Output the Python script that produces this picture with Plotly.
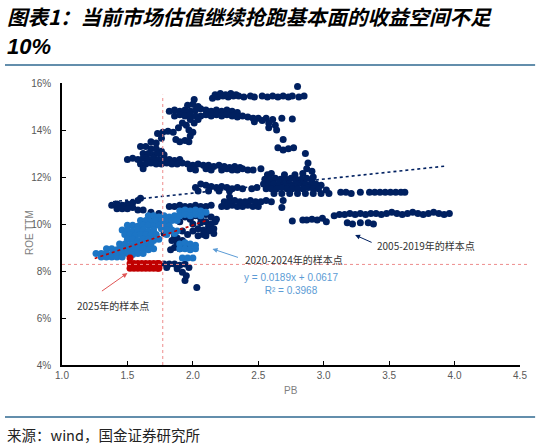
import plotly.graph_objects as go

# colours
NAVY = "#002060"
LIGHT_BLUE = "#1C75C5"
RED = "#C00000"
REF_RED = "#EE8C8C"
CJK = "Noto Sans CJK SC"
LATIN = "Liberation Sans, Arial"

# ---- 2005-2019 samples (PB, ROE %), band by band ----
band_top = [(2.01, 15.3), (2.15, 15.35), (2.19, 15.4), (2.23, 15.45), (2.27, 15.4), (2.31, 15.45),
            (2.35, 15.45), (2.39, 15.4), (2.44, 15.45), (2.47, 15.4), (2.53, 15.45), (2.57, 15.4),
            (2.61, 15.45), (2.65, 15.4), (2.69, 15.45), (2.73, 15.4), (2.76, 15.45), (2.81, 15.4),
            (2.85, 15.45), (2.80, 15.85), (2.17, 15.5), (2.21, 15.55), (2.25, 15.5), (2.29, 15.55),
            (2.33, 15.5)]

band_high = [(1.82, 14.8), (1.86, 14.85), (1.90, 14.8), (1.94, 14.85), (1.98, 14.8), (2.02, 14.85),
             (2.06, 14.9), (2.10, 14.85), (2.14, 14.8), (2.18, 14.85), (2.22, 14.8), (2.26, 14.85),
             (2.30, 14.8), (2.34, 14.75), (1.86, 14.6), (1.90, 14.65), (1.94, 14.6), (1.98, 14.65),
             (2.02, 14.6), (2.06, 14.6), (2.10, 14.65), (2.14, 14.6), (2.18, 14.65), (2.22, 14.6),
             (2.26, 14.65), (2.30, 14.6), (2.34, 14.55), (2.38, 14.6), (2.42, 14.55), (2.46, 14.5),
             (1.96, 15.05), (2.00, 15.1), (2.04, 15.0), (1.98, 14.45), (2.01, 14.3), (2.04, 14.45)]

band_tail = [(2.50, 14.5), (2.47, 14.35), (2.53, 14.4), (2.56, 14.5), (2.58, 14.3), (2.61, 14.45),
             (2.63, 14.2), (2.58, 14.1), (2.68, 14.5), (2.76, 14.47), (2.64, 14.0), (2.69, 13.6),
             (2.65, 13.25), (2.69, 13.15), (2.73, 13.2), (2.77, 13.25), (2.86, 13.0), (2.88, 12.6),
             (2.87, 12.35), (2.91, 12.25), (2.92, 12.0)]

band_hook = [(1.73, 13.85), (1.77, 13.9), (1.81, 13.95), (1.85, 13.9), (1.89, 14.1), (1.92, 14.3),
             (1.95, 14.2), (1.97, 14.0), (2.00, 13.9), (1.98, 13.75), (1.87, 13.6), (1.90, 13.5),
             (1.94, 13.55), (1.97, 13.5), (1.76, 13.65), (1.68, 13.5), (1.72, 13.45), (1.60, 13.3),
             (1.64, 13.3), (1.68, 13.2), (1.72, 13.2), (1.76, 13.1), (1.62, 13.0), (1.66, 13.0),
             (1.70, 12.95), (1.74, 13.0), (1.78, 12.95), (1.64, 12.8), (1.70, 12.8)]

band_mid = [(1.50, 12.75), (1.54, 12.8), (1.58, 12.75), (1.62, 12.8), (1.66, 12.75), (1.70, 12.8),
            (1.74, 12.75), (1.78, 12.8), (1.82, 12.75), (1.86, 12.7), (1.90, 12.75), (1.60, 12.55),
            (1.64, 12.55), (1.68, 12.6), (1.72, 12.55), (1.76, 12.55), (1.80, 12.6), (1.84, 12.55),
            (1.88, 12.55), (1.92, 12.6), (1.96, 12.55), (2.00, 12.5), (2.04, 12.55), (2.08, 12.5),
            (2.12, 12.5), (2.16, 12.45), (2.20, 12.5), (2.24, 12.45), (2.28, 12.4), (2.32, 12.45),
            (2.36, 12.4), (1.62, 12.35), (1.98, 12.35), (2.02, 12.3), (2.10, 12.35), (2.14, 12.3),
            (2.22, 12.3), (2.26, 12.35), (2.30, 12.3), (2.34, 12.3), (2.38, 12.35), (2.42, 12.3),
            (2.46, 12.3), (2.52, 12.35)]

band_eleven = [(2.02, 11.55), (2.06, 11.7), (2.10, 11.65), (2.14, 11.6), (2.18, 11.55), (2.22, 11.6),
               (2.26, 11.55), (2.30, 11.5), (2.34, 11.55), (2.38, 11.5), (2.45, 11.5), (2.49, 11.55),
               (2.04, 11.4), (2.12, 11.4), (2.20, 11.4), (2.28, 11.4),
               (2.57, 12.1), (2.60, 12.15), (2.70, 12.1), (2.78, 12.1), (2.84, 12.15),
               (2.55, 11.9), (2.59, 11.9), (2.63, 11.95), (2.67, 11.9), (2.71, 11.9), (2.75, 11.95),
               (2.79, 11.9), (2.83, 11.9), (2.87, 11.95), (2.91, 11.9),
               (2.54, 11.7), (2.58, 11.7), (2.62, 11.7), (2.66, 11.75), (2.70, 11.7), (2.74, 11.7),
               (2.78, 11.7), (2.82, 11.75), (2.86, 11.7), (2.90, 11.7), (2.94, 11.7), (2.98, 11.65),
               (2.56, 11.5), (2.60, 11.5), (2.64, 11.5), (2.68, 11.55), (2.72, 11.5), (2.76, 11.5),
               (2.80, 11.5), (2.84, 11.5), (2.88, 11.55), (2.92, 11.5), (2.96, 11.5), (3.02, 11.45),
               (2.62, 11.3), (2.68, 11.3), (2.74, 11.3), (2.80, 11.3), (2.86, 11.3), (2.92, 11.3),
               (2.98, 11.3), (3.04, 11.3),
               (3.13, 11.35), (3.17, 11.35), (3.21, 11.3), (3.28, 11.35), (3.35, 11.35), (3.39, 11.35),
               (3.43, 11.35), (3.47, 11.35), (3.51, 11.35), (3.55, 11.35), (3.59, 11.35), (3.62, 11.35)]

band_ten_left = [(1.38, 10.8), (1.42, 10.85), (1.46, 10.8), (1.50, 10.85), (1.54, 10.9), (1.58, 11.0),
                 (1.60, 11.1), (1.42, 10.65), (1.46, 10.65), (1.50, 10.65), (1.54, 10.7), (1.58, 10.6),
                 (1.62, 10.6)]

band_ten_mid = [(1.82, 10.75), (1.86, 10.75), (1.90, 10.8), (1.94, 10.75), (1.98, 10.75), (2.02, 10.8),
                (2.06, 10.75), (2.10, 10.75), (2.14, 10.8), (2.22, 10.75), (2.26, 10.75), (2.30, 10.8),
                (2.34, 10.75), (2.38, 10.75), (2.42, 10.8), (2.46, 10.75), (2.50, 10.75),
                (2.24, 10.95), (2.28, 10.95), (2.32, 11.0), (2.36, 10.95), (2.40, 10.95), (2.44, 11.0),
                (2.48, 10.95), (2.52, 10.95), (2.56, 11.0), (2.60, 10.95), (2.28, 11.15), (2.68, 10.7),
                (2.69, 11.0)]

band_ten_right = [(2.76, 10.13), (2.84, 10.17), (2.87, 10.17), (2.91, 10.2), (2.95, 10.17), (2.99, 10.25),
                  (3.02, 10.1), (3.08, 10.35), (3.12, 10.4), (3.16, 10.4), (3.20, 10.45), (3.24, 10.4),
                  (3.28, 10.45), (3.32, 10.4), (3.36, 10.45), (3.40, 10.45), (3.44, 10.4), (3.48, 10.45),
                  (3.52, 10.5), (3.56, 10.45), (3.60, 10.4), (3.64, 10.45), (3.68, 10.5), (3.72, 10.45),
                  (3.76, 10.4), (3.80, 10.45), (3.84, 10.5), (3.88, 10.45), (3.92, 10.4), (3.96, 10.45),
                  (3.18, 10.05), (3.22, 10.0), (3.28, 10.05), (3.34, 10.05), (3.38, 10.0)]

band_low = [(1.68, 10.5), (1.70, 10.3), (1.72, 10.15), (1.74, 10.45), (1.86, 10.2), (1.90, 10.1),
            (1.94, 10.3), (1.98, 10.2), (2.02, 10.35), (2.06, 10.25), (2.10, 10.4), (2.14, 10.3),
            (2.17, 10.1), (2.00, 10.0), (2.06, 10.05), (2.10, 10.1), (2.14, 10.0), (2.18, 10.2),
            (2.12, 9.9), (2.16, 9.6), (2.08, 9.55), (1.96, 9.55), (1.92, 9.7),
            (2.00, 9.7), (2.04, 9.8), (2.08, 9.75), (2.12, 9.7), (2.16, 9.8), (2.04, 9.5),
            (2.10, 9.5), (1.78, 9.6), (1.82, 9.7), (1.86, 9.5), (1.84, 9.3), (1.88, 9.2),
            (1.92, 9.3), (1.86, 9.0), (1.90, 8.95), (1.94, 9.05), (1.83, 8.9), (1.88, 9.4),
            (1.78, 8.3), (1.82, 8.3), (1.86, 8.3), (1.90, 8.25), (1.94, 8.3),
            (1.97, 8.15), (1.80, 8.15), (1.88, 8.1), (1.92, 7.95), (1.95, 7.8), (1.94, 7.6),
            (2.03, 7.3)]

# ---- 2020-2024 samples ----
recent = [(1.90, 10.55), (1.94, 10.6), (1.98, 10.55), (2.02, 10.6), (2.06, 10.55), (2.10, 10.5),
          (1.66, 10.35), (1.70, 10.35), (1.74, 10.3), (1.78, 10.35), (1.82, 10.3), (1.86, 10.35),
          (1.90, 10.35), (1.94, 10.4), (1.98, 10.35), (2.02, 10.4), (2.06, 10.35),
          (1.60, 10.15), (1.64, 10.15), (1.68, 10.1), (1.72, 10.15), (1.76, 10.15), (1.80, 10.1),
          (1.84, 10.15), (1.88, 10.15),
          (1.50, 9.95), (1.54, 9.95), (1.58, 9.9), (1.62, 9.95), (1.66, 9.95), (1.70, 9.9),
          (1.74, 9.95), (1.78, 9.95), (1.82, 9.9),
          (1.46, 9.75), (1.50, 9.75), (1.54, 9.7), (1.58, 9.75), (1.62, 9.75), (1.66, 9.7),
          (1.70, 9.75), (1.76, 9.8), (1.80, 9.75), (1.84, 9.75), (1.88, 9.7),
          (1.48, 9.55), (1.52, 9.55), (1.56, 9.5), (1.60, 9.55), (1.64, 9.55), (1.68, 9.5),
          (1.72, 9.55), (1.80, 9.55), (1.86, 9.6),
          (1.50, 9.35), (1.54, 9.35), (1.58, 9.3), (1.62, 9.35), (1.66, 9.35), (1.70, 9.3),
          (1.74, 9.35),
          (1.44, 9.15), (1.48, 9.15), (1.52, 9.1), (1.56, 9.15), (1.60, 9.15), (1.64, 9.1),
          (1.68, 9.15), (1.90, 9.15), (1.94, 9.2), (1.98, 9.15), (2.02, 9.1),
          (1.34, 8.95), (1.38, 8.95), (1.42, 8.9), (1.46, 8.95), (1.50, 8.95), (1.54, 8.9),
          (1.58, 8.95), (1.62, 8.95), (1.66, 8.9), (1.70, 8.95), (1.90, 8.95), (1.94, 8.95),
          (1.98, 8.9), (2.02, 8.95),
          (1.26, 8.75), (1.30, 8.75), (1.34, 8.75), (1.38, 8.7), (1.42, 8.75), (1.46, 8.75),
          (1.50, 8.75), (1.54, 8.7), (1.58, 8.75), (1.62, 8.75),
          (1.30, 8.6), (1.34, 8.6), (1.38, 8.6), (1.42, 8.6), (1.46, 8.6),
          (1.92, 8.55), (1.96, 8.55), (2.00, 8.55)]

# ---- 2025 samples ----
current = [(1.52, 8.32), (1.55, 8.32), (1.58, 8.32), (1.61, 8.32), (1.64, 8.32), (1.67, 8.32),
           (1.70, 8.32), (1.73, 8.32), (1.74, 8.32), (1.52, 8.12), (1.55, 8.12), (1.58, 8.12),
           (1.61, 8.12), (1.64, 8.12), (1.67, 8.12), (1.70, 8.12), (1.73, 8.12), (1.74, 8.12),
           (1.52, 8.55)]

# trend lines
trend_all_pb = [1.39, 3.94]
trend_all_roe = [10.95, 12.47]
trend_recent_pb = [1.25, 2.10]
trend_recent_slope = 0.0189
trend_recent_icpt = 0.0617

# reference lines (current PB / ROE)
ref_pb = 1.77
ref_roe = 8.28

x_ticks = [1.0, 1.5, 2.0, 2.5, 3.0, 3.5, 4.0, 4.5]
y_ticks = [4, 6, 8, 10, 12, 14, 16]
y_tick_text = ["4%", "6%", "8%", "10%", "12%", "14%", "16%"]

navy = (band_top + band_high + band_tail + band_hook + band_mid + band_eleven
        + band_ten_left + band_ten_mid + band_ten_right + band_low)

fig = go.Figure()

for pts, color in [(navy, NAVY), (recent, LIGHT_BLUE), (current, RED)]:
    fig.add_trace(
        go.Scatter(
            x=[p[0] for p in pts],
            y=[p[1] for p in pts],
            mode="markers",
            marker=dict(size=7, color=color, line=dict(width=0)),
            hoverinfo="x+y",
        )
    )

fig.add_trace(
    go.Scatter(x=trend_all_pb, y=trend_all_roe, mode="lines",
               line=dict(color=NAVY, width=1.6, dash="dot"))
)
fig.add_trace(
    go.Scatter(
        x=trend_recent_pb,
        y=[100 * (trend_recent_slope * v + trend_recent_icpt) for v in trend_recent_pb],
        mode="lines",
        line=dict(color=RED, width=1.6, dash="dot"),
    )
)

# red dashed reference lines
fig.add_shape(type="line", xref="x", yref="y", x0=ref_pb, x1=ref_pb, y0=4, y1=15.5,
              line=dict(color=REF_RED, width=1, dash="dot"))
fig.add_shape(type="line", xref="paper", yref="y", x0=0, x1=1.017, y0=ref_roe, y1=ref_roe,
              line=dict(color=REF_RED, width=1, dash="dot"))

# separator rules above and below the chart
for yy in [1.064, -0.184]:
    fig.add_shape(type="line", xref="paper", yref="paper", x0=-0.1245, x1=1.033, y0=yy, y1=yy,
                  line=dict(color="#2F6890", width=1.5))

ann_font = dict(family=CJK, size=10, color="#333333")
eq_font = dict(family=LATIN, size=10, color="#5B9BD5")
annotations = [
    # title
    dict(text="图表1：当前市场估值继续抢跑基本面的收益空间不足", xref="paper", yref="paper",
         x=-0.1245, y=1.2376, xanchor="left", yanchor="middle", showarrow=False,
         font=dict(family=CJK, size=20.5, color="black", weight="bold", style="italic")),
    dict(text="10%", xref="paper", yref="paper", x=-0.1245, y=1.1277, xanchor="left",
         yanchor="middle", showarrow=False,
         font=dict(family=LATIN, size=22, color="black", weight="bold", style="italic")),
    # source
    dict(text="来源：wind，国金证券研究所", xref="paper", yref="paper", x=-0.1245, y=-0.2447,
         xanchor="left", yanchor="middle", showarrow=False,
         font=dict(family=CJK, size=14.5, color="#222222")),
    # axis titles
    dict(text="PB", xref="paper", yref="paper", x=0.5, y=-0.092, xanchor="center",
         yanchor="middle", showarrow=False, font=dict(family=LATIN, size=10, color="#7F7F7F")),
    dict(text="ROE TTM", xref="paper", yref="paper", x=-0.072, y=0.468, xanchor="center",
         yanchor="middle", textangle=-90, showarrow=False,
         font=dict(family=LATIN, size=10, color="#7F7F7F")),
    # labels in the plot
    dict(text="2005-2019年的样本点", x=3.39, y=9.1, xanchor="left", yanchor="middle",
         showarrow=False, font=ann_font),
    dict(text="2020-2024年的样本点", x=2.38, y=8.51, xanchor="left", yanchor="middle",
         showarrow=False, font=ann_font),
    dict(text="2025年的样本点", x=1.10, y=6.55, xanchor="left", yanchor="middle",
         showarrow=False, font=ann_font),
    dict(text="y = 0.0189x + 0.0617<br>R² = 0.3968", x=2.75, y=7.45, xanchor="center",
         yanchor="middle", align="center", showarrow=False, font=eq_font),
    # arrows
    dict(text="", x=3.24, y=9.53, ax=18, ay=8, showarrow=True, arrowhead=2, arrowsize=1,
         arrowwidth=1, arrowcolor=NAVY),
    dict(text="", x=2.15, y=8.94, ax=27, ay=9, showarrow=True, arrowhead=2, arrowsize=1,
         arrowwidth=1, arrowcolor="#5B9BD5"),
    dict(text="", x=1.50, y=7.91, ax=-27, ay=19, showarrow=True, arrowhead=2, arrowsize=1,
         arrowwidth=1, arrowcolor="#E05555"),
]

fig.update_layout(
    width=541,
    height=446,
    margin=dict(l=62, r=21, t=83, b=81),
    paper_bgcolor="white",
    plot_bgcolor="white",
    showlegend=False,
    annotations=annotations,
    xaxis=dict(
        range=[1.0, 4.5],
        tickvals=x_ticks,
        tickformat=".1f",
        ticks="inside",
        ticklen=4,
        tickcolor="black",
        showline=True,
        linecolor="black",
        linewidth=1.5,
        showgrid=False,
        zeroline=False,
        tickfont=dict(family=LATIN, size=10, color="#595959"),
    ),
    yaxis=dict(
        range=[4, 16],
        tickvals=y_ticks,
        ticktext=y_tick_text,
        ticks="inside",
        ticklen=4,
        tickcolor="black",
        showline=True,
        linecolor="black",
        linewidth=1.5,
        showgrid=False,
        zeroline=False,
        ticklabelstandoff=7,
        tickfont=dict(family=LATIN, size=10, color="#595959"),
    ),
)

# drop the default 8px body margin so the figure sits at the page corner; no modebar
fig.write_html("out.html", config={"displayModeBar": False},
               post_script="document.body.style.margin = '0px';")
